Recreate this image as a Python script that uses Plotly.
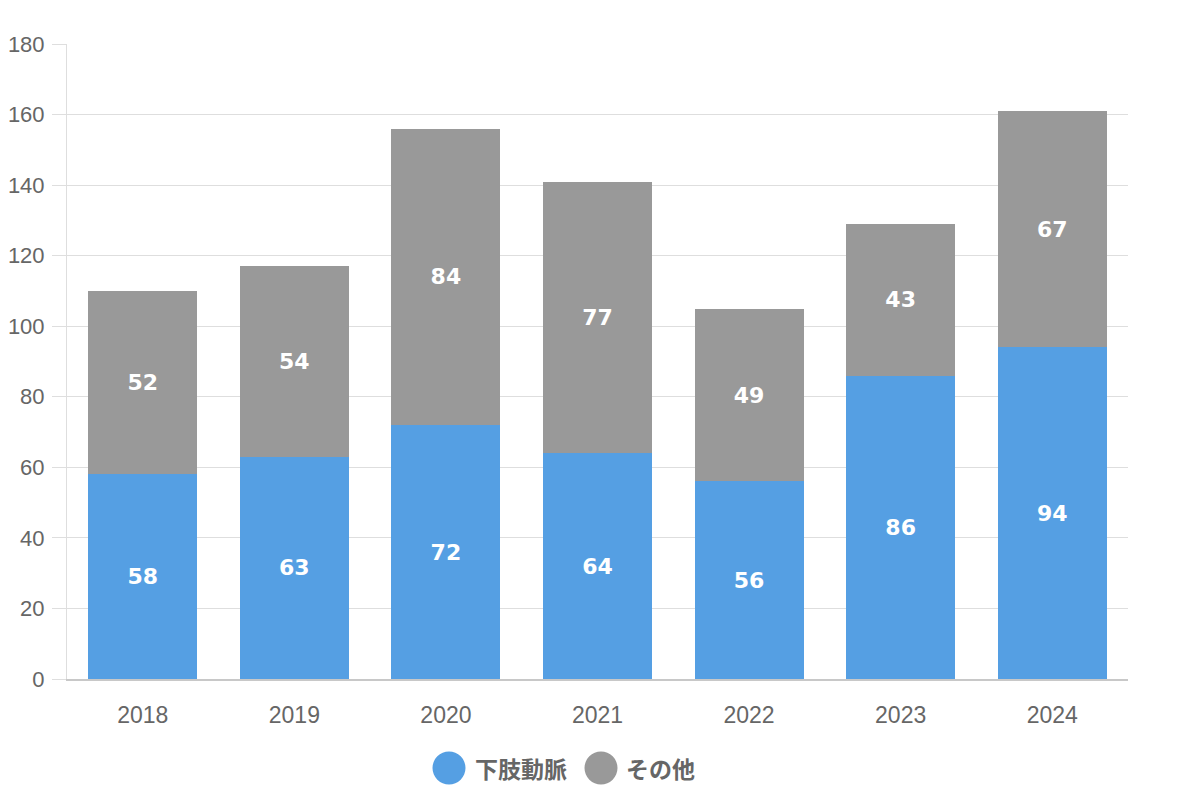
import plotly.graph_objects as go

years = ["2018", "2019", "2020", "2021", "2022", "2023", "2024"]
lower_limb = [58, 63, 72, 64, 56, 86, 94]
other = [52, 54, 84, 77, 49, 43, 67]
series_names = ["下肢動脈", "その他"]
colors = ["#559fe3", "#999999"]

OFF = 8  # page body margin
W, H = 1200, 800
L, T = 67 - OFF, 44 - OFF
PR, PB = 1128 - OFF, 679 - OFF  # plot right / bottom in figure px
R, B = W - PR, H - PB
pw, ph = PR - L, PB - T

fig = go.Figure()
for name, vals, col in zip(series_names, [lower_limb, other], colors):
    fig.add_trace(go.Bar(
        x=years, y=vals, name=name,
        marker=dict(color=col, line=dict(width=0)),
        text=vals, texttemplate="%{text}",
        textposition="inside", insidetextanchor="middle",
        textfont=dict(family="DejaVu Sans", size=22, color="white", weight="bold"),
        showlegend=False,
    ))

fig.update_layout(
    width=W, height=H,
    margin=dict(l=L, r=R, t=T, b=B, autoexpand=False),
    barmode="stack", bargap=0.28,
    plot_bgcolor="white", paper_bgcolor="white",
    font=dict(family="Liberation Sans", color="#666666", size=22),
)
fig.update_yaxes(
    range=[0, 180], dtick=20, showgrid=True, gridcolor="#dedede", gridwidth=1,
    ticks="outside", ticklen=14, tickcolor="#dedede",
    showline=True, linecolor="#dedede", linewidth=1,
    zeroline=False, ticklabelstandoff=3, automargin=False,
    tickfont=dict(family="Liberation Sans", size=22, color="#666666"),
)
fig.update_xaxes(
    showgrid=False, ticks="", showline=True, linecolor="#c8c8c8", linewidth=1.5,
    ticklabelstandoff=15, automargin=False,
    tickfont=dict(family="Liberation Sans", size=23, color="#666666"),
)

# manual legend (screen px positions)
legend_items = [(449, 475), (601, 626)]
ly = 768 - OFF
for (cx, tx), name, col in zip(legend_items, series_names, colors):
    cx -= OFF
    tx -= OFF
    xp = (cx - L) / pw
    yp = (PB - ly) / ph
    fig.add_shape(type="circle", xref="paper", yref="paper",
                  xsizemode="pixel", ysizemode="pixel",
                  xanchor=xp, yanchor=yp,
                  x0=-16.5, x1=16.5, y0=-16.5, y1=16.5,
                  fillcolor=col, line=dict(width=0))
    fig.add_annotation(xref="paper", yref="paper",
                       x=(tx - L) / pw, y=yp, xanchor="left", yanchor="middle",
                       xshift=-2, text=name, showarrow=False,
                       font=dict(family="Noto Sans CJK JP", size=23, color="#666666", weight="bold"))

fig.write_html("out.html")
